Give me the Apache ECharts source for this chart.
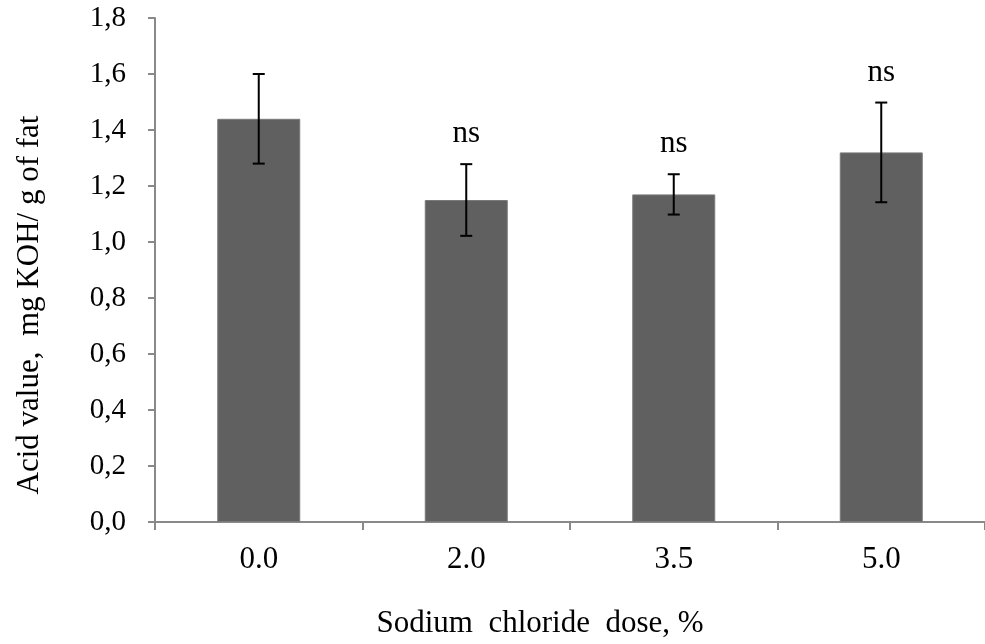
<!DOCTYPE html>
<html>
<head>
<meta charset="utf-8">
<script src="https://cdn.jsdelivr.net/npm/echarts@6/dist/echarts.min.js"></script>
<style>html,body{margin:0;padding:0;background:#fff;}#c{width:985px;height:644px;}</style>
</head>
<body>
<div id="c"></div>
<script>
const categories = ['0.0', '2.0', '3.5', '5.0'];
const means = [1.44, 1.15, 1.17, 1.32];
const errors = [0.16, 0.128, 0.072, 0.178];
const marks = ['', 'ns', 'ns', 'ns'];
const yTicks = [0, 0.2, 0.4, 0.6, 0.8, 1.0, 1.2, 1.4, 1.6, 1.8];

const FONT = '"Liberation Serif", "Times New Roman", serif';
const chart = echarts.init(document.getElementById('c'));
const errData = means.map((m, i) => [i, m, errors[i]]);

chart.setOption({
  animation: false,
  backgroundColor: '#fff',
  grid: { left: 155, right: -5, top: 18, bottom: 122, containLabel: false },
  xAxis: {
    type: 'category',
    data: categories,
    name: 'Sodium  chloride  dose, %',
    nameLocation: 'middle',
    nameGap: 86,
    nameTextStyle: { fontFamily: FONT, fontSize: 31, color: '#000', padding: [0, 60, 0, 0] },
    axisLine: { lineStyle: { color: '#898989', width: 2 } },
    axisTick: { show: true, length: 8, lineStyle: { color: '#898989', width: 2 } },
    axisLabel: { fontFamily: FONT, fontSize: 31, color: '#000', margin: 22 }
  },
  yAxis: {
    type: 'value',
    min: 0, max: 1.8, interval: 0.2,
    name: 'Acid value,  mg KOH/ g of fat',
    nameLocation: 'middle',
    nameGap: 110,
    nameTextStyle: { fontFamily: FONT, fontSize: 31, color: '#000', padding: [0, 70, 0, 0] },
    axisLine: { show: true, lineStyle: { color: '#898989', width: 2 } },
    axisTick: { show: true, length: 7, lineStyle: { color: '#898989', width: 2 } },
    splitLine: { show: false },
    axisLabel: {
      fontFamily: FONT, fontSize: 29, color: '#000', margin: 29,
      formatter: v => {
        const t = yTicks.find(x => Math.abs(x - v) < 1e-6);
        return (t !== undefined ? t : v).toFixed(1).replace('.', ',');
      }
    }
  },
  series: [
    {
      type: 'bar',
      data: means,
      barWidth: '40%',
      itemStyle: { color: '#606060', borderColor: '#7a7a7a', borderWidth: 1 }
    },
    {
      type: 'custom',
      data: errData,
      z: 10,
      renderItem: function (params, api) {
        const i = api.value(0), m = api.value(1), e = api.value(2);
        const top = api.coord([i, m + e]);
        const bot = api.coord([i, m - e]);
        const half = 6;
        const style = { stroke: '#000', lineWidth: 2 };
        const children = [
          { type: 'line', shape: { x1: top[0], y1: top[1], x2: bot[0], y2: bot[1] }, style },
          { type: 'line', shape: { x1: top[0] - half, y1: top[1], x2: top[0] + half, y2: top[1] }, style },
          { type: 'line', shape: { x1: bot[0] - half, y1: bot[1], x2: bot[0] + half, y2: bot[1] }, style }
        ];
        const mk = marks[params.dataIndex];
        if (mk) {
          children.push({
            type: 'text',
            style: { text: mk, x: top[0], y: top[1] - 30, align: 'center', verticalAlign: 'middle',
              font: '31px ' + FONT, fill: '#000' }
          });
        }
        return { type: 'group', children };
      }
    }
  ]
});
</script>
</body>
</html>
